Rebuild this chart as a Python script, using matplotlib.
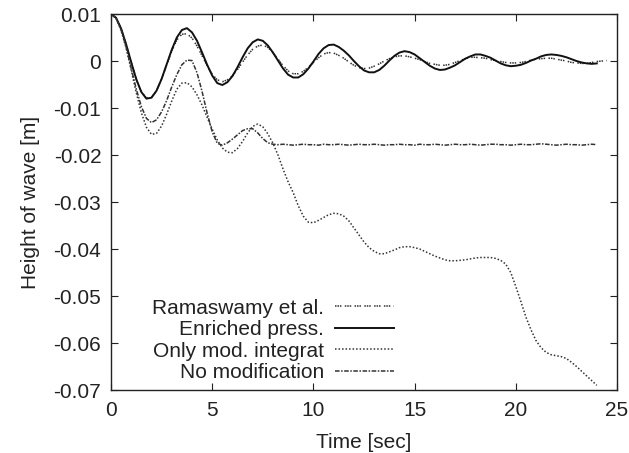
import matplotlib
matplotlib.use("Agg")
import matplotlib.pyplot as plt

plt.rcParams['font.family'] = ['Liberation Sans', 'DejaVu Sans']

# time grid [sec], curves every 0.25 s
t = [0.0, 0.25, 0.5, 0.75, 1.0, 1.25, 1.5, 1.75, 2.0, 2.25, 2.5, 2.75, 3.0, 3.25, 3.5, 3.75,
     4.0, 4.25, 4.5, 4.75, 5.0, 5.25, 5.5, 5.75, 6.0, 6.25, 6.5, 6.75, 7.0, 7.25, 7.5, 7.75,
     8.0, 8.25, 8.5, 8.75, 9.0, 9.25, 9.5, 9.75, 10.0, 10.25, 10.5, 10.75, 11.0, 11.25, 11.5,
     11.75, 12.0, 12.25, 12.5, 12.75, 13.0, 13.25, 13.5, 13.75, 14.0, 14.25, 14.5, 14.75,
     15.0, 15.25, 15.5, 15.75, 16.0, 16.25, 16.5, 16.75, 17.0, 17.25, 17.5, 17.75, 18.0,
     18.25, 18.5, 18.75, 19.0, 19.25, 19.5, 19.75, 20.0, 20.25, 20.5, 20.75, 21.0, 21.25,
     21.5, 21.75, 22.0, 22.25, 22.5, 22.75, 23.0, 23.25, 23.5, 23.75, 24.0]
t_ram = t + [24.25, 24.5]

ramaswamy = [0.0100, 0.0092, 0.0069, 0.0035, -0.0003, -0.0039, -0.0066, -0.0079,
             -0.0077, -0.0063, -0.0038, -0.0008, 0.0021, 0.0045, 0.0057, 0.0058,
             0.0049, 0.0032, 0.0011, -0.0010, -0.0028, -0.0040, -0.0044, -0.0040,
             -0.0031, -0.0018, -0.0002, 0.0013, 0.0025, 0.0032, 0.0034, 0.0029,
             0.0018, 0.0004, -0.0010, -0.0021, -0.0027, -0.0027, -0.0022, -0.0013,
             -0.0003, 0.0007, 0.0015, 0.0018, 0.0017, 0.0012, 0.0006, -0.0002,
             -0.0009, -0.0014, -0.0016, -0.0015, -0.0011, -0.0006, 0.0000, 0.0005,
             0.0009, 0.0011, 0.0011, 0.0009, 0.0006, 0.0003, -0.0001, -0.0005,
             -0.0007, -0.0009, -0.0009, -0.0007, -0.0003, 0.0001, 0.0005, 0.0008,
             0.0008, 0.0007, 0.0006, 0.0003, 0.0001, -0.0001, -0.0003, -0.0004,
             -0.0004, -0.0003, -0.0001, 0.0002, 0.0004, 0.0005, 0.0006, 0.0006,
             0.0004, 0.0002, 0.0000, -0.0003, -0.0004, -0.0005, -0.0005, -0.0003,
             -0.0001, 0.0000, 0.0001]

enriched = [0.0100, 0.0092, 0.0069, 0.0035, -0.0003, -0.0039, -0.0066, -0.0080,
            -0.0078, -0.0063, -0.0038, -0.0007, 0.0024, 0.0050, 0.0066, 0.0070,
            0.0061, 0.0043, 0.0018, -0.0008, -0.0031, -0.0047, -0.0051, -0.0045,
            -0.0032, -0.0013, 0.0008, 0.0027, 0.0040, 0.0046, 0.0043, 0.0033,
            0.0018, 0.0001, -0.0016, -0.0029, -0.0035, -0.0035, -0.0028, -0.0016,
            -0.0001, 0.0015, 0.0027, 0.0034, 0.0035, 0.0030, 0.0022, 0.0012,
            0.0000, -0.0011, -0.0020, -0.0024, -0.0024, -0.0019, -0.0010, 0.0001,
            0.0011, 0.0018, 0.0021, 0.0019, 0.0014, 0.0006, -0.0002, -0.0010,
            -0.0016, -0.0019, -0.0018, -0.0014, -0.0009, -0.0002, 0.0005, 0.0010,
            0.0014, 0.0014, 0.0011, 0.0007, 0.0001, -0.0005, -0.0009, -0.0011,
            -0.0010, -0.0008, -0.0004, 0.0001, 0.0005, 0.0010, 0.0013, 0.0014,
            0.0013, 0.0011, 0.0008, 0.0004, 0.0000, -0.0003, -0.0005, -0.0006,
            -0.0005]

only_mod = [0.0100, 0.0091, 0.0065, 0.0027, -0.0020, -0.0068, -0.0110, -0.0141,
            -0.0156, -0.0154, -0.0138, -0.0113, -0.0085, -0.0060, -0.0047, -0.0046,
            -0.0055, -0.0072, -0.0094, -0.0120, -0.0145, -0.0168, -0.0185, -0.0194,
            -0.0195, -0.0186, -0.0171, -0.0153, -0.0139, -0.0134, -0.0140, -0.0155,
            -0.0175, -0.0200, -0.0230, -0.0257, -0.0280, -0.0308, -0.0330, -0.0343,
            -0.0344, -0.0339, -0.0333, -0.0327, -0.0324, -0.0325, -0.0330, -0.0340,
            -0.0355, -0.0370, -0.0385, -0.0397, -0.0405, -0.0410, -0.0410, -0.0406,
            -0.0402, -0.0397, -0.0395, -0.0395, -0.0397, -0.0400, -0.0405, -0.0410,
            -0.0415, -0.0419, -0.0423, -0.0425, -0.0425, -0.0424, -0.0423, -0.0421,
            -0.0419, -0.0418, -0.0418, -0.0418, -0.0420, -0.0424, -0.0432, -0.0450,
            -0.0480, -0.0512, -0.0545, -0.0572, -0.0595, -0.0610, -0.0620, -0.0625,
            -0.0627, -0.0629, -0.0633, -0.0641, -0.0650, -0.0660, -0.0670, -0.0680,
            -0.0690]

no_mod = [0.0100, 0.0091, 0.0066, 0.0029, -0.0016, -0.0060, -0.0097, -0.0122,
          -0.0131, -0.0125, -0.0108, -0.0084, -0.0055, -0.0029, -0.0008, 0.0002,
          0.0001, -0.0025, -0.0065, -0.0111, -0.0151, -0.0175, -0.0179, -0.0174,
          -0.0166, -0.0157, -0.0148, -0.0144, -0.0144, -0.0153, -0.0165, -0.0174,
          -0.0177, -0.0178, -0.0177, -0.0178, -0.0179, -0.0178, -0.0177, -0.0178,
          -0.0178, -0.0179, -0.0177, -0.0178, -0.0178, -0.0177, -0.0178, -0.0179,
          -0.0178, -0.0177, -0.0178, -0.0178, -0.0177, -0.0178, -0.0179, -0.0178,
          -0.0178, -0.0177, -0.0178, -0.0178, -0.0179, -0.0177, -0.0178, -0.0178,
          -0.0177, -0.0178, -0.0179, -0.0178, -0.0177, -0.0178, -0.0178, -0.0177,
          -0.0178, -0.0179, -0.0178, -0.0177, -0.0177, -0.0178, -0.0178, -0.0179,
          -0.0178, -0.0177, -0.0178, -0.0178, -0.0177, -0.0176, -0.0177, -0.0178,
          -0.0179, -0.0178, -0.0177, -0.0178, -0.0178, -0.0179, -0.0178, -0.0177,
          -0.0178]

fig = plt.figure(figsize=(6.29, 4.53), dpi=100)
ax = fig.add_axes([0.1765, 0.139, 0.8045, 0.830])

ax.plot(t_ram, ramaswamy, color='#333333', lw=1.1, ls=(0, (1, 0.6, 1, 0.6, 1, 2.2)),
        label='Ramaswamy et al.')
ax.plot(t, enriched, color='#111111', lw=1.4, ls='-', label='Enriched press.')
ax.plot(t, only_mod, color='#333333', lw=1.1, ls=(0, (1, 1.3)), label='Only mod. integrat')
ax.plot(t, no_mod, color='#333333', lw=1.1, ls=(0, (3, 1, 1, 1)), label='No modification')

ax.set_xlim(0, 25)
ax.set_ylim(-0.07, 0.01)
ax.set_xticks([0, 5, 10, 15, 20, 25])
ax.set_yticks([-0.07, -0.06, -0.05, -0.04, -0.03, -0.02, -0.01, 0, 0.01])
ax.set_yticklabels(['-0.07', '-0.06', '-0.05', '-0.04', '-0.03', '-0.02', '-0.01', '0', '0.01'])
ax.tick_params(direction='in', length=5, width=0.8, labelsize=15, top=True, right=True,
               colors='#222222')
ax.tick_params(axis='x', pad=8)
ax.tick_params(axis='y', pad=7)
for s in ax.spines.values():
    s.set_linewidth(1.0)
    s.set_color('#222222')

ax.set_xlabel('Time [sec]', fontsize=15, color='#222222', labelpad=9)
ax.set_ylabel('Height of wave [m]', fontsize=15, color='#222222', labelpad=10)

leg = ax.legend(loc='lower right', bbox_to_anchor=(0.559, 0.021), frameon=False,
                markerfirst=False, fontsize=15, handlelength=2.85, handletextpad=0.5,
                labelspacing=0.12, borderaxespad=0.0, borderpad=0.0)
for txt in leg.get_texts():
    txt.set_color('#222222')

fig.savefig('out.png', dpi=100)
